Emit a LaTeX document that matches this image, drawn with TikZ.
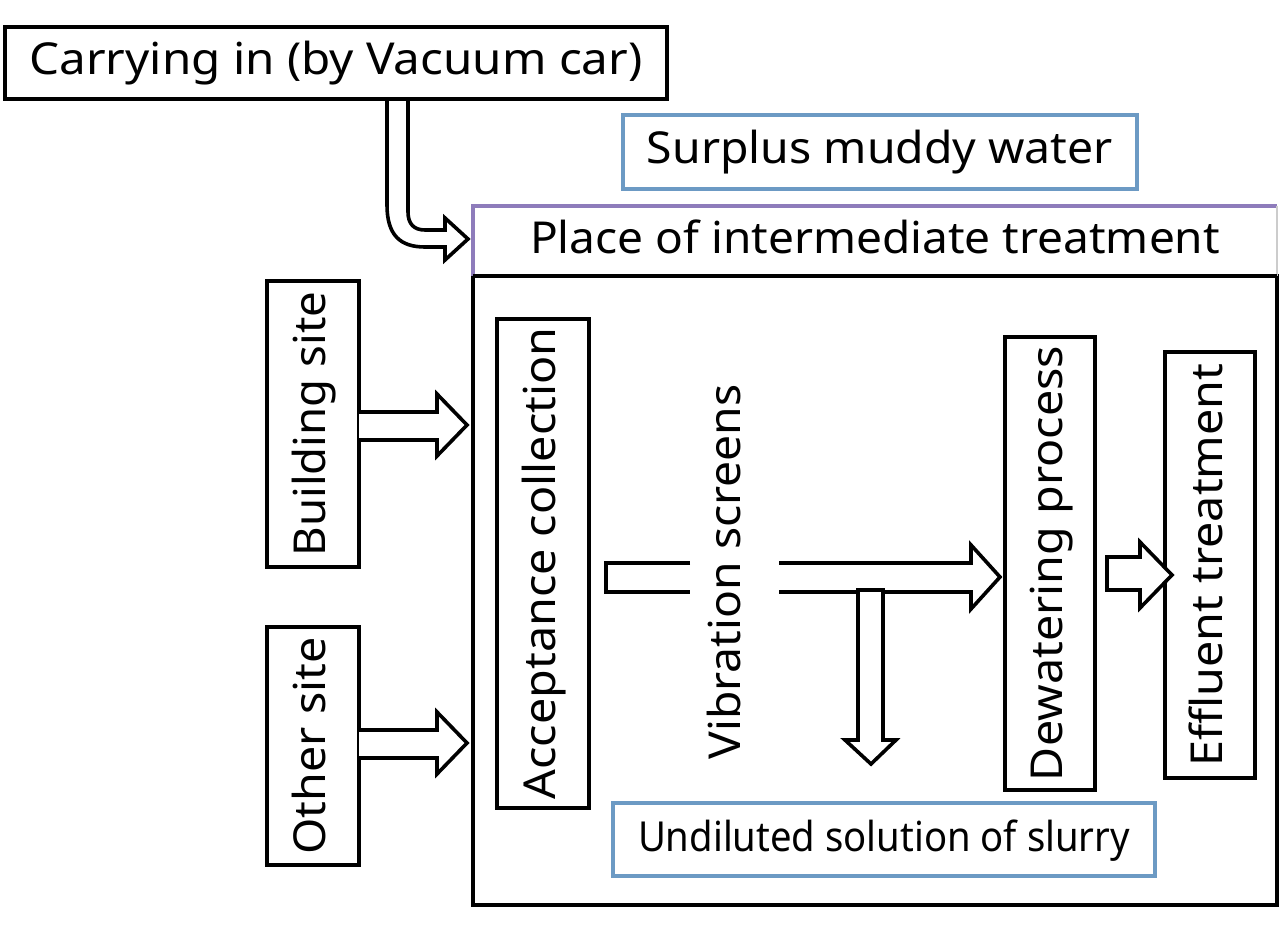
\documentclass[tikz,border=0pt]{standalone}
\usepackage{fontspec}
\setmainfont{Noto Sans}
\usepackage{graphicx}
\newcommand\fitw[2]{\resizebox{#1pt}{\height}{#2}}
\definecolor{boxblue}{HTML}{6C9AC4}
\definecolor{boxpurple}{HTML}{8E7CBB}
\begin{document}
\begin{tikzpicture}[x=0.75pt,y=-0.75pt,
  every node/.style={inner sep=0pt,outer sep=0pt,font=\fontsize{33}{36}\selectfont,text height=24pt,text depth=6pt},
  bbox/.style={draw=black,line width=2.7pt,fill=white},
  blbox/.style={draw=boxblue,line width=3pt,fill=white},
  blk/.style={draw=black,line width=2.7pt,fill=white,line join=miter},
  vbox/.style={bbox,rotate=90}]
\useasboundingbox (0,0) rectangle (1280,934);
% boxes
\node[bbox,minimum width=496.5pt,minimum height=54pt] (carry) at (336,63) {\fitw{459.75}{Carrying in (by Vacuum car)}};
\node[blbox,minimum width=385.5pt,minimum height=55.5pt] (surplus) at (880,152) {\fitw{349.5}{Surplus muddy water}};
\node[draw=black,line width=2.7pt,minimum width=603pt,minimum height=471.75pt] (main) at (875,590.5) {};
\node[minimum width=603pt,minimum height=52.5pt] (place) at (875,241) {\fitw{517.5}{Place of intermediate treatment}};
\draw[boxpurple,line width=2.4pt] (place.south west) -- (place.north west) -- (place.north east);
\draw[black!20,line width=1.5pt] (place.north east) -- (place.south east);
\draw[black,line width=2.7pt] (place.south west) -- (place.south east);
\node[vbox,minimum width=214.5pt,minimum height=69pt] (bld) at (313,424) {\fitw{198.75}{Building site}};
\node[vbox,minimum width=178.5pt,minimum height=69pt] (oth) at (313,746) {\fitw{162.75}{Other site}};
\node[vbox,minimum width=366.75pt,minimum height=69pt] (acc) at (543,563.5) {\fitw{354}{Acceptance collection}};
\node[rotate=90] (vib) at (728,572) {\fitw{281.25}{Vibration screens}};
\node[vbox,minimum width=339.75pt,minimum height=67.5pt] (dew) at (1050,563.5) {\fitw{326.25}{Dewatering process}};
\node[vbox,minimum width=319.5pt,minimum height=67.5pt] (eff) at (1210,565) {\fitw{302.25}{Effluent treatment}};
\node[blbox,minimum width=406.5pt,minimum height=54.75pt,font=\fontsize{31}{34}\selectfont] (slurry) at (884,839.5) {\fitw{369}{Undiluted solution of slurry}};
% curved arrow from carrying box into place
\draw[blk,fill=none] (carry.south -| 387,0) -- (387,205) .. controls (387,235) and (400,247) .. (425,247) -- (445,247) -- (445,260) -- (468,239) -- (445,218) -- (445,230) -- (425,230) .. controls (414,230) and (408,224) .. (408,212) -- (carry.south -| 408,0);
% side arrows
\draw[blk] (bld.south |- 0,412) -- (437,412) -- (437,394) -- (467,425) -- (437,456) -- (437,440) -- (bld.south |- 0,440);
\draw[blk] (oth.south |- 0,730) -- (437,730) -- (437,712) -- (467,743) -- (437,774) -- (437,758) -- (oth.south |- 0,758);
% vibration screens
\draw[blk,fill=none] (690,563) -- (606,563) -- (606,592) -- (690,592);
\draw[blk] (779,563) -- (971,563) -- (971,545) -- (1000,577) -- (971,609) -- (971,592) -- (779,592);
\draw[blk] (858,590) -- (883,590) -- (883,740) -- (896,740) -- (871,764) -- (845,740) -- (858,740) -- cycle;
% dewatering -> effluent
\draw[blk] (1107,557) -- (1140,557) -- (1140,542) -- (1172,575) -- (1140,608) -- (1140,590) -- (1107,590) -- cycle;
\end{tikzpicture}
\end{document}
